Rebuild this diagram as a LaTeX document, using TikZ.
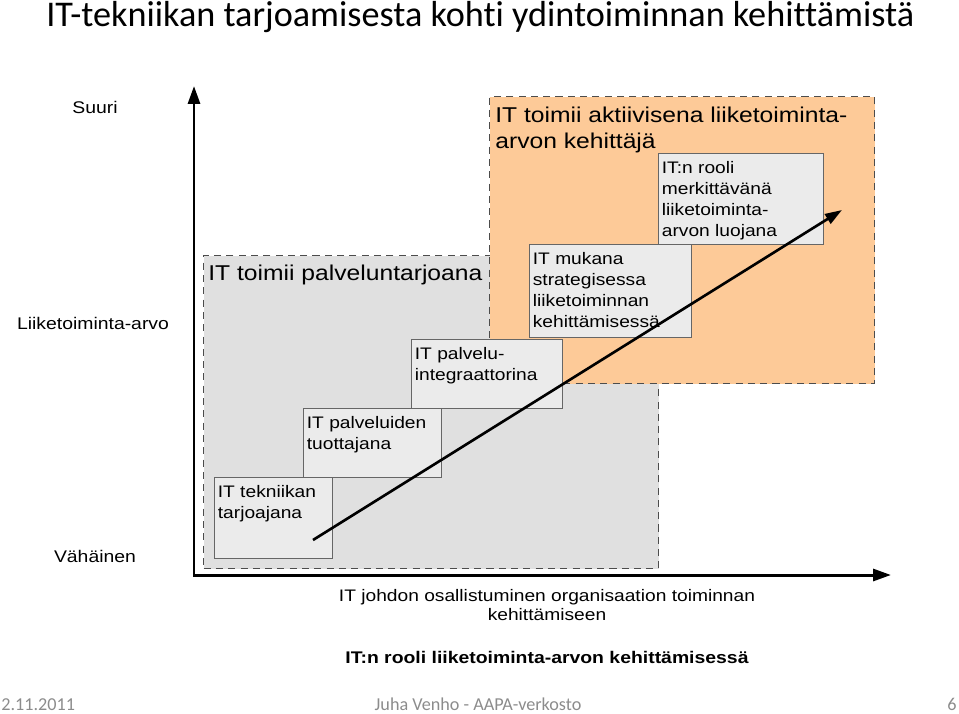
\documentclass[tikz,border=0pt]{standalone}
\usepackage{fontspec}
\setmainfont{Carlito}[Ligatures=NoCommon]
\newfontfamily\diagfont{Liberation Sans}[FakeStretch=1.15]
\usetikzlibrary{positioning, arrows.meta}
\definecolor{zonegray}{RGB}{224,224,224}
\definecolor{zoneorange}{RGB}{253,202,152}
\definecolor{boxgray}{RGB}{235,235,235}
\definecolor{footgray}{RGB}{140,140,140}

\begin{document}
\begin{tikzpicture}
    [
        x=0.02cm, y=-0.02cm,
        zone/.style={draw=black!70, line width=0.7pt, dash pattern=on 4pt off 3pt, anchor=north west, inner sep=0pt},
        rolebox/.style={draw=black!60, line width=0.6pt, fill=boxgray, anchor=north west, inner sep=0pt},
        roletext/.style={anchor=north west, align=left, inner xsep=2pt, inner ysep=4.6pt, font=\diagfont\fontsize{9.5}{11.9}\selectfont},
        zonetext/.style={anchor=base west, align=left, inner sep=0pt, font=\diagfont\fontsize{12.2}{14.7}\selectfont},
        axislabel/.style={font=\diagfont\fontsize{9.6}{11}\selectfont},
        footer/.style={inner sep=0pt, text=footgray, font=\fontsize{10.35}{12}\selectfont},
        axis/.style={line width=1.7pt, line join=miter, {Triangle[length=0.36cm, width=0.24cm]}-{Triangle[length=0.36cm, width=0.24cm]}},
    ]
    \useasboundingbox (0,0) rectangle (959,713);
    \node[anchor=base west, inner sep=0pt, font=\fontsize{20.6}{24}\selectfont] (otsikko) at (46,27) {IT-tekniikan tarjoamisesta kohti ydintoiminnan kehittämistä};

    \node[zone, fill=zonegray, minimum width=9.10cm, minimum height=6.26cm] (palvelu) at (203,255) {};
    \node[zone, fill=zoneorange, minimum width=7.70cm, minimum height=5.74cm] (kehittaja) at (489,96) {};
    \node[zonetext] (palveluteksti) at (208,280) {IT toimii palveluntarjoana};
    \node[zonetext] (kehittajateksti) at (495,148) {IT toimii aktiivisena liiketoiminta-\\arvon kehittäjä};

    \node[rolebox, minimum width=2.36cm, minimum height=1.62cm] (tarjoaja) at (214,477) {};
    \node[roletext] (tarjoajateksti) at (tarjoaja.north west) {IT tekniikan\\tarjoajana};
    \node[rolebox, minimum width=2.76cm, minimum height=1.38cm] (tuottaja) at (303,408) {};
    \node[roletext] (tuottajateksti) at (tuottaja.north west) {IT palveluiden\\tuottajana};
    \node[rolebox, minimum width=3.02cm, minimum height=1.38cm] (integraattori) at (411,339) {};
    \node[roletext] (integraattoriteksti) at (integraattori.north west) {IT palvelu-\\integraattorina};
    \node[rolebox, minimum width=3.24cm, minimum height=1.86cm] (strategia) at (529,244) {};
    \node[roletext] (strategiateksti) at (strategia.north west) {IT mukana\\strategisessa\\liiketoiminnan\\kehittämisessä};
    \node[rolebox, minimum width=3.30cm, minimum height=1.82cm] (luoja) at (658,153) {};
    \node[roletext] (luojateksti) at (luoja.north west) {IT:n rooli\\merkittävänä\\liiketoiminta-\\arvon luojana};

    \coordinate (origo) at (194,575);
    \coordinate (ylapaa) at (194,86);
    \coordinate (oikea) at (891,575);
    \draw[axis] (ylapaa) -- (origo) -- (oikea);

    \coordinate (alku) at (313,540);
    \coordinate (karki) at (842,210);
    \draw[line width=1.5pt, -{Triangle[length=0.34cm, width=0.22cm]}] (alku) -- (karki);

    \node[axislabel] (suuri) at (95,107) {Suuri};
    \node[axislabel] (arvo) at (93,323) {Liiketoiminta-arvo};
    \node[axislabel] (vahainen) at (95,556) {Vähäinen};

    \node[align=center, font=\diagfont\fontsize{9.5}{10.8}\selectfont] (osallistuminen) at (547,605) {IT johdon osallistuminen organisaation toiminnan\\kehittämiseen};
    \node[font=\diagfont\bfseries\fontsize{9.6}{11}\selectfont] (rooli) at (547,657) {IT:n rooli liiketoiminta-arvon kehittämisessä};

    \node[footer, anchor=base west] (pvm) at (1,710) {2.11.2011};
    \node[footer, anchor=base] (tekija) at (478,710) {Juha Venho - AAPA-verkosto};
    \node[footer, anchor=base east] (sivu) at (957,710) {6};
\end{tikzpicture}
\end{document}
